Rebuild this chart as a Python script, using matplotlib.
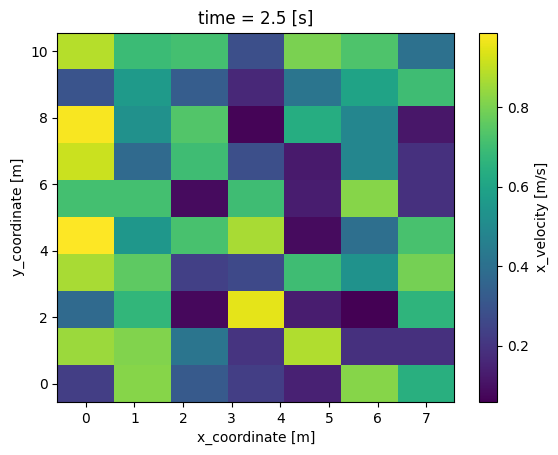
import numpy as np
import matplotlib
matplotlib.use("Agg")
import matplotlib.pyplot as plt

# coordinates of the cell centres
x_coord = np.linspace(0, 7, 7)
y_coord = np.linspace(0, 10, 10)

# x_velocity values, rows from y=0 (bottom) to y=10 (top)
row_0 = [0.226, 0.821, 0.319, 0.226, 0.143, 0.821, 0.644]
row_1 = [0.849, 0.811, 0.421, 0.198, 0.877, 0.189, 0.189]
row_2 = [0.375, 0.672, 0.078, 0.951, 0.133, 0.059, 0.663]
row_3 = [0.867, 0.756, 0.236, 0.263, 0.700, 0.533, 0.793]
row_4 = [0.988, 0.551, 0.719, 0.867, 0.087, 0.393, 0.719]
row_5 = [0.709, 0.709, 0.087, 0.700, 0.133, 0.821, 0.189]
row_6 = [0.914, 0.375, 0.700, 0.282, 0.124, 0.486, 0.189]
row_7 = [0.979, 0.524, 0.737, 0.068, 0.635, 0.486, 0.115]
row_8 = [0.301, 0.561, 0.328, 0.161, 0.421, 0.598, 0.700]
row_9 = [0.886, 0.691, 0.709, 0.282, 0.802, 0.728, 0.403]

velocity = np.array([row_0, row_1, row_2, row_3, row_4,
                     row_5, row_6, row_7, row_8, row_9])


def edges(c):
    # cell edges from centres, like xarray's infer_intervals
    d = np.diff(c)
    mid = c[:-1] + d / 2
    return np.concatenate([[c[0] - d[0] / 2], mid, [c[-1] + d[-1] / 2]])


fig = plt.figure(figsize=(5.58, 4.55), dpi=100)
ax = fig.add_axes([0.103, 0.1165, 0.7115, 0.812])
cax = fig.add_axes([0.859, 0.1165, 0.0323, 0.812])

mesh = ax.pcolormesh(edges(x_coord), edges(y_coord), velocity, cmap="viridis")
ax.set_xticks(range(0, 8))
ax.set_yticks(range(0, 11, 2))
ax.set_xlabel("x_coordinate [m]")
ax.set_ylabel("y_coordinate [m]")
ax.set_title("time = 2.5 [s]")

cbar = fig.colorbar(mesh, cax=cax)
cbar.set_ticks([0.2, 0.4, 0.6, 0.8])
cbar.set_label("x_velocity [m/s]")

fig.savefig("out.png", dpi=100)
